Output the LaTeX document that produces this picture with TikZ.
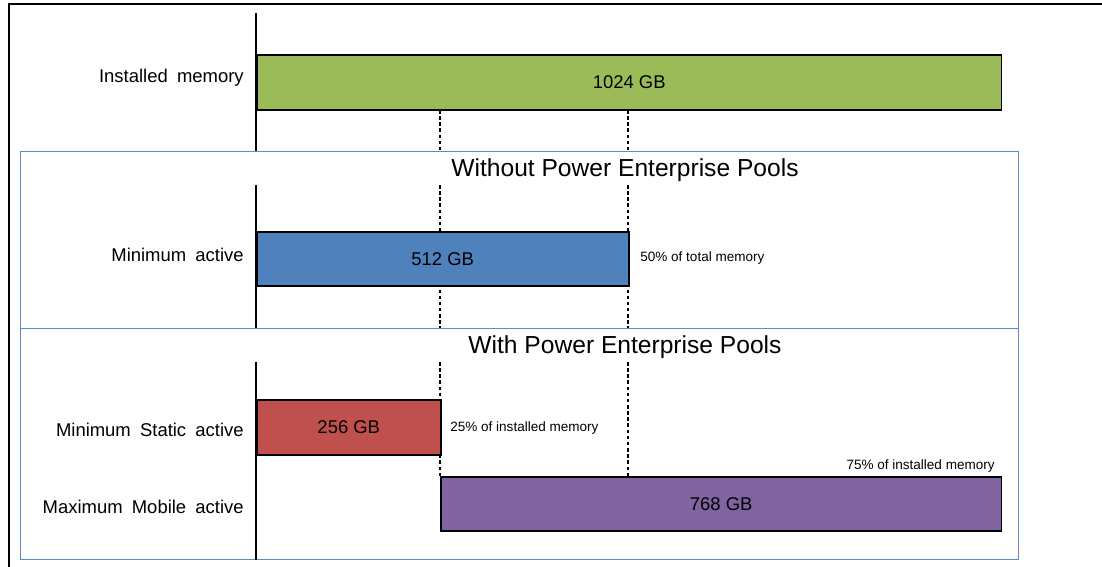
\documentclass[tikz,border=0pt]{standalone}
\usepackage{fontspec}
\setmainfont{Liberation Sans}
\usetikzlibrary{positioning}

\definecolor{barGreen}{HTML}{9BBB59}
\definecolor{barBlue}{HTML}{4F81BD}
\definecolor{barRed}{HTML}{C0504D}
\definecolor{barPurple}{HTML}{8064A2}
\definecolor{panelBlue}{HTML}{5B8BC9}
\newcommand{\widegap}{\spaceskip 0.5em plus 0.1em\relax}

\begin{document}
\begin{tikzpicture}[x=0.02cm, y=-0.02cm,
        bar/.style={rectangle, draw=black, line width=0.9pt, minimum height=1.09cm, inner sep=0pt, anchor=west, font=\fontsize{10.5}{12}\selectfont},
        rowlabel/.style={anchor=east, inner sep=0pt, font=\fontsize{10.5}{12}\selectfont},
        note/.style={inner sep=0pt, font=\fontsize{7.7}{9}\selectfont},
        heading/.style={inner sep=0pt, font=\fontsize{14}{16}\selectfont},
        panel/.style={rectangle, draw=panelBlue, line width=0.8pt, anchor=north west, minimum width=19.96cm, inner sep=0pt},
        axis/.style={line width=1.2pt},
        guide/.style={line width=0.6pt, dash pattern=on 2pt off 1.5pt}]
        \useasboundingbox (0,0) rectangle (1102,567);

        % Frame
        \draw[line width=0.8pt] (1102,4) -- (9,4) -- (9,567);
        \node[panel, minimum height=3.54cm] (without) at (20,151) {};
        \node[panel, minimum height=4.62cm] (with) at (20,328) {};

        % Guides
        \coordinate (quarter) at (440,0);
        \coordinate (half) at (628,0);
        \draw[guide] (440,110) -- (without.north -| quarter);
        \draw[guide] (628,110) -- (without.north -| half);
        \draw[guide] (440,185) -- (with.north -| quarter);
        \draw[guide] (628,185) -- (with.north -| half);
        \draw[guide] (440,362) -- (440,477);
        \draw[guide] (628,362) -- (628,477);

        % Nodes
        \node[bar, fill=barGreen, minimum width=14.9cm] (installed) at (256,82.5) {1024 GB};
        \node[bar, fill=barBlue, minimum width=7.44cm] (minactive) at (256,259) {512 GB};
        \node[bar, fill=barRed, minimum width=3.68cm] (minstatic) at (256,427.5) {256 GB};
        \node[bar, fill=barPurple, minimum width=11.22cm] (maxmobile) at (440,504) {768 GB};

        % Labels
        \node[rowlabel] (installedLabel) at (244,78) {\widegap Installed memory};
        \node[rowlabel] (minactiveLabel) at (244,255) {\widegap Minimum active};
        \node[rowlabel] (minstaticLabel) at (244,430) {\widegap Minimum Static active};
        \node[rowlabel] (maxmobileLabel) at (244,507) {\widegap Maximum Mobile active};
        \node[heading] (withoutTitle) at (625,170) {Without Power Enterprise Pools};
        \node[heading] (withTitle) at (625,347) {With Power Enterprise Pools};
        \node[note, anchor=west] (halfNote) at (640,258) {50\% of total memory};
        \node[note, anchor=west] (quarterNote) at (450,428) {25\% of installed memory};
        \node[note, anchor=east] (threeNote) at (995,466) {75\% of installed memory};

        % Axis
        \draw[axis] (256,13) -- (without.north -| installed.west);
        \draw[axis] (256,185) -- (with.north -| installed.west);
        \draw[axis] (256,362) -- (with.south -| installed.west);
    \end{tikzpicture}
\end{document}
